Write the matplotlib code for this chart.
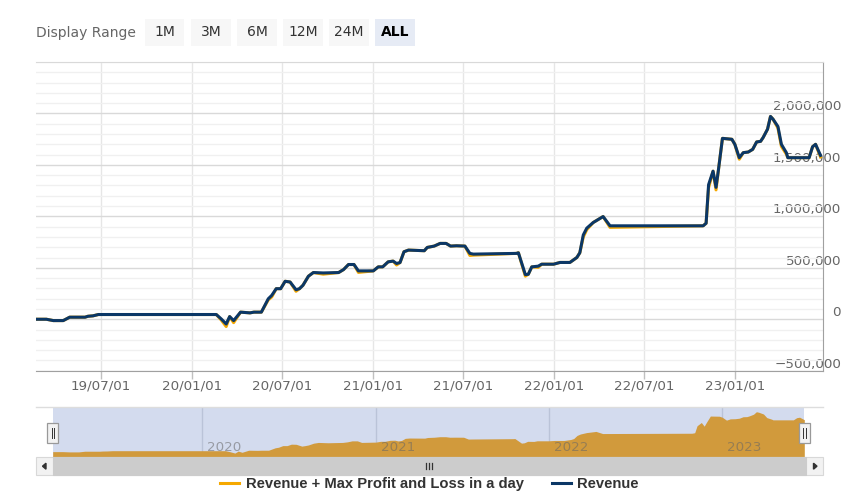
import matplotlib
matplotlib.use("Agg")
import matplotlib.pyplot as plt
import matplotlib.dates as mdates
from matplotlib.ticker import FixedLocator, MultipleLocator, FuncFormatter
from matplotlib.patches import Rectangle, Polygon
from matplotlib.transforms import offset_copy
import numpy as np
import pandas as pd

W, H = 853, 496

# data
dates = ["2019-02-20", "2019-03-13", "2019-03-27", "2019-04-16", "2019-04-29", "2019-05-30",
         "2019-06-05", "2019-06-15", "2019-06-26", "2020-02-19", "2020-02-29", "2020-03-10",
         "2020-03-17", "2020-03-25", "2020-04-08", "2020-04-27", "2020-05-05", "2020-05-20",
         "2020-06-03", "2020-06-10", "2020-06-19", "2020-06-28", "2020-07-07", "2020-07-17",
         "2020-07-29", "2020-08-05", "2020-08-12", "2020-08-23", "2020-09-02", "2020-09-22",
         "2020-10-23", "2020-11-02", "2020-11-12", "2020-11-23", "2020-12-02", "2021-01-01",
         "2021-01-11", "2021-01-20", "2021-01-31", "2021-02-10", "2021-02-17", "2021-02-24",
         "2021-03-04", "2021-03-13", "2021-04-14", "2021-04-20", "2021-05-04", "2021-05-16",
         "2021-05-28", "2021-06-06", "2021-06-18", "2021-07-05", "2021-07-15", "2021-07-22",
         "2021-10-17", "2021-10-21", "2021-11-04", "2021-11-10", "2021-11-17", "2021-11-30",
         "2021-12-07", "2021-12-31", "2022-01-13", "2022-02-02", "2022-02-16", "2022-02-22",
         "2022-03-01", "2022-03-08", "2022-03-21", "2022-04-10", "2022-04-24", "2022-10-29",
         "2022-11-04", "2022-11-09", "2022-11-18", "2022-11-24", "2022-11-29", "2022-12-07",
         "2022-12-26", "2023-01-01", "2023-01-10", "2023-01-18", "2023-01-28", "2023-02-06",
         "2023-02-14", "2023-02-22", "2023-02-27", "2023-03-08", "2023-03-14", "2023-03-19",
         "2023-03-29", "2023-04-05", "2023-04-15", "2023-04-18", "2023-05-31", "2023-06-07",
         "2023-06-13", "2023-06-23"]

revenue = [0, 0, -13000, -13000, 20000, 20000,
           29000, 33000, 46000, 46000, 3000, -46000,
           26000, -13000, 69000, 62000, 69000, 69000,
           199000, 232000, 297000, 297000, 369000, 362000,
           287000, 297000, 330000, 418000, 454000, 450000,
           454000, 483000, 532000, 532000, 470000, 470000,
           509000, 509000, 558000, 565000, 542000, 551000,
           656000, 672000, 666000, 698000, 711000, 737000,
           737000, 711000, 714000, 711000, 640000, 633000,
           640000, 646000, 434000, 437000, 509000, 516000,
           535000, 535000, 552000, 552000, 600000, 646000,
           819000, 885000, 940000, 998000, 908000, 908000,
           933000, 1308000, 1439000, 1282000, 1456000, 1758000,
           1749000, 1700000, 1570000, 1619000, 1625000, 1651000,
           1723000, 1729000, 1765000, 1847000, 1971000, 1945000,
           1873000, 1700000, 1619000, 1570000, 1570000, 1677000,
           1700000, 1592000]

# max profit / loss in a day (mostly hidden under the revenue line)
max_pl = [0, 0, 0, 0, 0, 0,
          0, 0, 0, 0, -10000, -25000,
          0, -20000, 0, 0, 0, 0,
          -10000, -15000, 0, 0, 0, 0,
          -15000, 0, 0, 0, 0, -12000,
          0, 0, 0, 0, -15000, 0,
          0, 0, 0, 0, -15000, 0,
          0, 0, 0, 0, 0, 0,
          0, 0, 0, 0, -20000, -10000,
          0, 0, -15000, 0, 0, -12000,
          0, 0, 0, 0, 0, 0,
          -20000, -15000, 0, 0, -15000, 0,
          0, -30000, 0, -25000, 0, 0,
          0, 0, -15000, 0, 0, 0,
          0, 0, 0, 0, 0, 0,
          -15000, -20000, -15000, 0, 0, 0,
          0, -15000]

series_names = ["Revenue + Max Profit and Loss in a day", "Revenue"]
range_buttons = ["1M", "3M", "6M", "12M", "24M", "ALL"]

x = pd.to_datetime(dates)
rev = np.array(revenue)
rev_pl = rev + np.array(max_pl)

ORANGE = "#f5a800"
NAVY = "#0b3766"
FS = 9.7

plt.rcParams["font.family"] = ["DejaVu Sans"]
fig = plt.figure(figsize=(W / 100, H / 100), dpi=100)

def px(l, t, r, b):
    return [l / W, 1 - b / H, (r - l) / W, (b - t) / H]

# main chart
ax = fig.add_axes(px(36, 62, 823, 370.7))
ax.plot(x, rev_pl, color=ORANGE, lw=2.2, zorder=3, label=series_names[0])
ax.plot(x, rev, color=NAVY, lw=2.2, zorder=4, label=series_names[1])
ax.set_xlim(pd.Timestamp("2019-02-20"), pd.Timestamp("2023-06-28"))
ax.set_ylim(-500000, 2500000)
ax.yaxis.set_major_locator(FixedLocator(np.arange(-500000, 2000001, 500000)))
ax.yaxis.set_minor_locator(MultipleLocator(100000))
ax.yaxis.set_major_formatter(FuncFormatter(lambda v, p: f"{int(v):,}".replace("-", "\u2212")))
ax.xaxis.set_major_locator(mdates.MonthLocator(bymonth=[1, 7]))
ax.xaxis.set_major_formatter(mdates.DateFormatter("%y/%m/%d"))
ax.yaxis.tick_right()
ax.grid(which="minor", axis="y", color="#f0f0f0", lw=1)
ax.grid(which="major", axis="y", color="#d9d9d9", lw=1)
ax.grid(which="major", axis="x", color="#e6e6e6", lw=1)
ax.set_axisbelow(True)
ax.tick_params(axis="y", which="both", length=0, pad=13, labelsize=FS, labelcolor="#666666")
ax.tick_params(axis="x", length=5.5, width=1, color="#c0c0c0", pad=1, labelsize=FS, labelcolor="#666666")
for lbl in ax.get_yticklabels():
    lbl.set_horizontalalignment("right")
    lbl.set_verticalalignment("bottom")
ax.spines["left"].set_visible(False)
ax.spines["top"].set_color("#d9d9d9")
ax.spines["right"].set_color("#a0a0a0")
ax.spines["bottom"].set_color("#a0a0a0")

# navigator
nav = fig.add_axes(px(52.7, 407.3, 804.3, 457.3))
nav.set_facecolor("#d3dbee")
nav.fill_between(x, rev_pl, -280000, color="#d19a3c", lw=0, zorder=2)
nav.xaxis.set_major_locator(mdates.YearLocator())
nav.grid(axis="x", color="#bac3d8", lw=1)
nav.set_axisbelow(True)
nav.tick_params(length=0, labelbottom=False, labelleft=False)
nav.set_xlim(x[0], x[-1])
nav.set_ylim(-280000, 2190000)
for s in nav.spines.values():
    s.set_visible(False)
trans = offset_copy(nav.get_xaxis_transform(), fig=fig, x=5, y=0, units="dots")
for yr in range(x[0].year + 1, x[-1].year + 1):
    nav.text(pd.Timestamp(f"{yr}-01-01"), 0.19, str(yr), transform=trans, fontsize=FS,
             color="#666666", alpha=0.55, ha="left", va="center", zorder=3)

# ui overlay: range buttons, scrollbar, handles
ui = fig.add_axes([0, 0, 1, 1])
ui.set_xlim(0, W)
ui.set_ylim(H, 0)
ui.axis("off")
ui.patch.set_alpha(0)

ui.text(36, 32.5, "Display Range", fontsize=10, color="#666666", va="center", ha="left")
for i, lab in enumerate(range_buttons):
    bx = 145 + 46.1 * i
    sel = lab == "ALL"
    ui.add_patch(Rectangle((bx, 19), 39.5, 27, facecolor="#e6ebf5" if sel else "#f7f7f7",
                           edgecolor="none"))
    ui.text(bx + 19.75, 32.5, lab, fontsize=10, color="#000000" if sel else "#333333",
            fontweight="bold" if sel else "normal", ha="center", va="center")

ui.plot([36, 822.7], [407.3, 407.3], color="#dddddd", lw=1)
ui.add_patch(Rectangle((36, 457.3), 786.7, 17.7, facecolor="#f2f2f2", edgecolor="#d8d8d8", lw=0.8))
ui.add_patch(Rectangle((52.7, 457.3), 753, 17.7, facecolor="#cccccc", edgecolor="#cccccc", lw=0.8))
ui.add_patch(Polygon([[42.5, 466.2], [46, 463.2], [46, 469.2]], closed=True, color="#333333"))
ui.add_patch(Polygon([[817, 466.2], [813.5, 463.2], [813.5, 469.2]], closed=True, color="#333333"))
for gx in (426, 429, 432):
    ui.plot([gx, gx], [463, 469], color="#333333", lw=0.9)
for hx in (52.8, 804.6):
    ui.add_patch(Rectangle((hx - 5.3, 422.7), 10.6, 20, facecolor="#f2f2f2", edgecolor="#999999", lw=0.9))
    for lx in (hx - 1.2, hx + 1.2):
        ui.plot([lx, lx], [427.5, 438], color="#333333", lw=0.7)

leg = fig.legend(*ax.get_legend_handles_labels(), loc="center", ncol=2, frameon=False,
                 bbox_to_anchor=(429.5 / W, 1 - 484 / H),
                 prop={"family": "Liberation Sans", "weight": "bold", "size": 10.6},
                 handlelength=1.3, handletextpad=0.45, columnspacing=1.9, borderpad=0)
for t in leg.get_texts():
    t.set_color("#333333")
for h in leg.legend_handles:
    h.set_linewidth(2.2)

fig.savefig("out.png", dpi=100)
